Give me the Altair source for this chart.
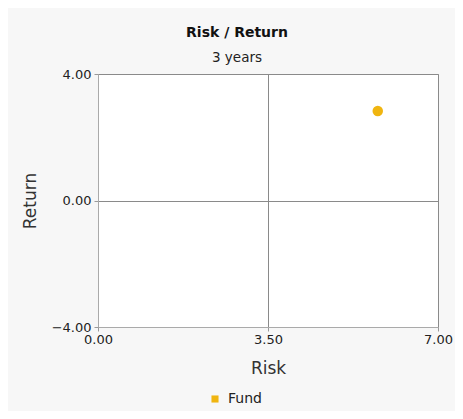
import altair as alt
import pandas as pd

series = ["Fund"]
risk = [5.76]
ret = [2.83]
x_ticks = [0, 3.5, 7]
y_ticks = [-4, 0, 4]

df = pd.DataFrame({"series": series, "risk": risk, "ret": ret})

FONT = "DejaVu Sans"

chart = alt.Chart(df).mark_circle(size=110, opacity=1).encode(
    x=alt.X("risk:Q", title="Risk",
            scale=alt.Scale(domain=[0, 7], nice=False, zero=False),
            axis=alt.Axis(values=x_ticks, format=".2f", grid=True, gridColor="#8a8a8a",
                          domainColor="#aaaaaa", tickColor="#999999", tickSize=4,
                          labelFlush=False, labelOverlap=False,
                          labelFont=FONT, labelFontSize=13, labelColor="#222222",
                          labelPadding=2, titleFont=FONT, titleFontSize=17,
                          titleFontWeight="normal", titleColor="#333333",
                          titleX=170, titleY=41, titleBaseline="middle")),
    y=alt.Y("ret:Q", title="Return",
            scale=alt.Scale(domain=[-4, 4], nice=False, zero=False),
            axis=alt.Axis(values=y_ticks, format=".2f", grid=True, gridColor="#8a8a8a",
                          domainColor="#aaaaaa", tickColor="#999999", tickSize=4,
                          labelFlush=False, labelOverlap=False,
                          labelFont=FONT, labelFontSize=13, labelColor="#222222",
                          labelPadding=3, titleFont=FONT, titleFontSize=17,
                          titleFontWeight="normal", titleColor="#333333",
                          titleX=-68, titleY=126.5, titleAngle=-90,
                          titleAlign="center", titleBaseline="middle")),
    color=alt.Color("series:N", title=None,
                    scale=alt.Scale(domain=series, range=["#f0b510"]),
                    legend=alt.Legend(orient="none", legendX=110, legendY=318,
                                      symbolType="square", symbolSize=50,
                                      symbolStrokeWidth=0,
                                      labelFont=FONT, labelFontSize=14, labelColor="#222222",
                                      labelOffset=6)),
).properties(
    width=340,
    height=253,
    padding={"left": 90, "top": 66, "right": 17, "bottom": 84},
    autosize=alt.AutoSizeParams(type="none"),
    background="#f7f7f7",
    title=alt.TitleParams(text="Risk / Return", subtitle="3 years", anchor="middle",
                          font=FONT, fontSize=14, fontWeight="bold", color="#111111",
                          subtitleFont=FONT, subtitleFontSize=13.5, subtitleColor="#222222",
                          subtitlePadding=11, dx=-31, offset=4),
).configure_view(
    fill="white", stroke="#aaaaaa", strokeWidth=1
)

chart.save("out.html", embed_options={"renderer": "svg", "actions": False})
